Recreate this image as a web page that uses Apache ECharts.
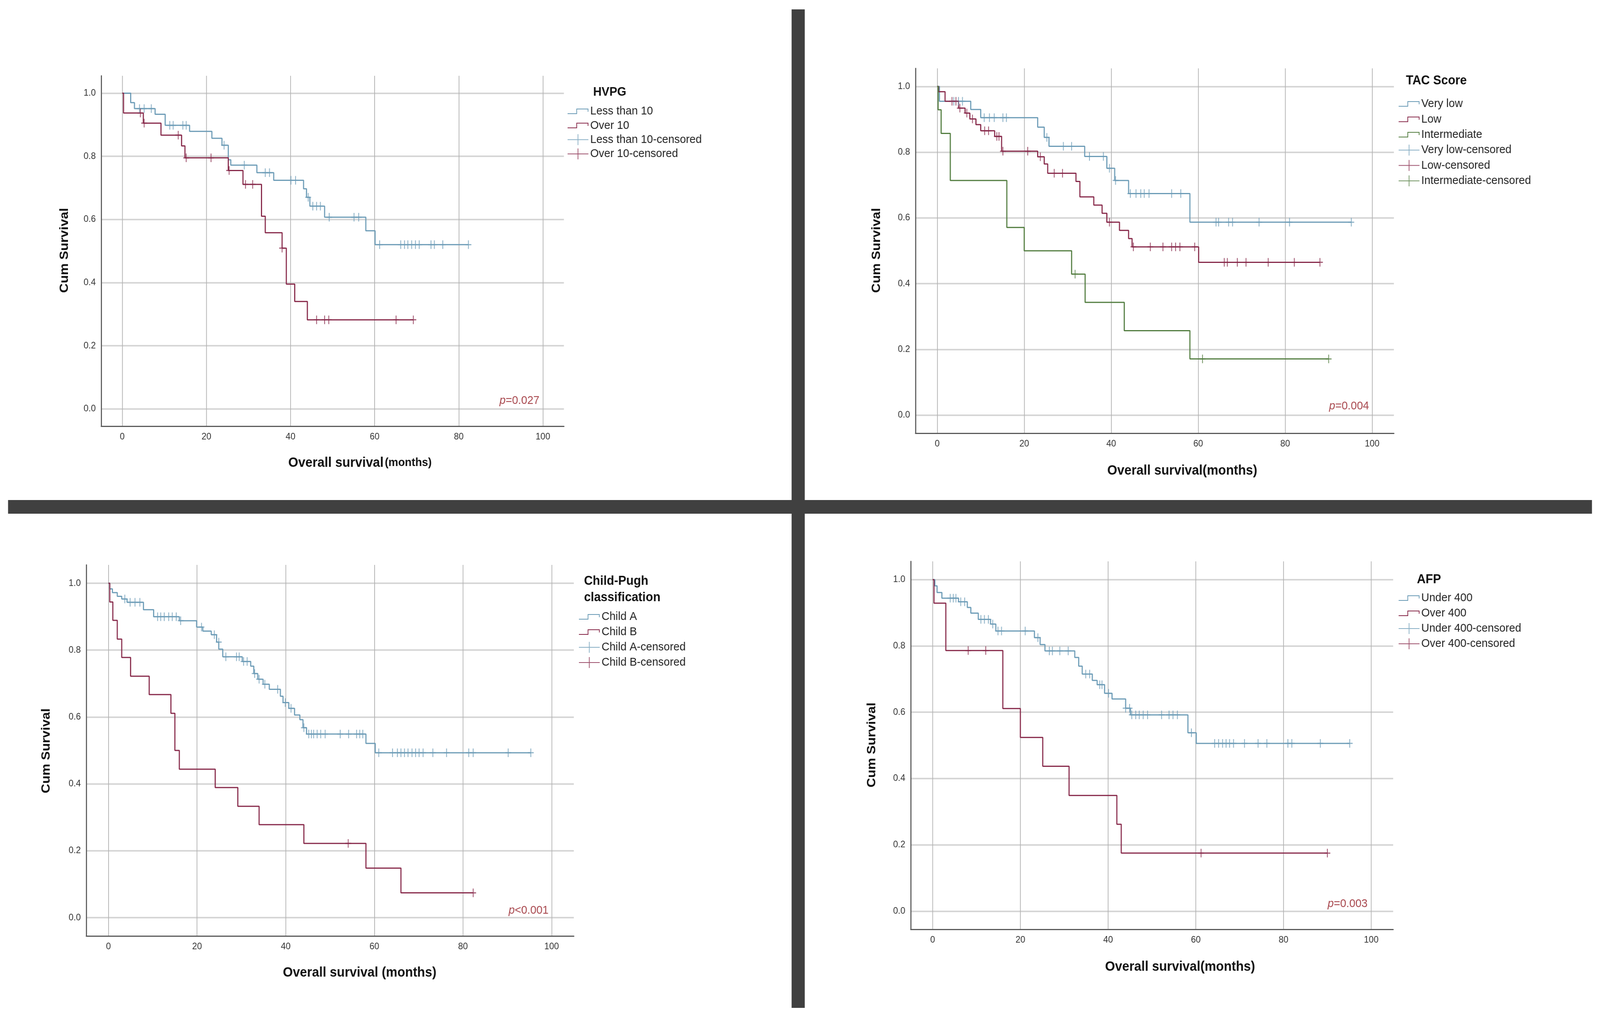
<!DOCTYPE html>
<html>
<head>
<meta charset="utf-8">
<script src="https://cdn.jsdelivr.net/npm/echarts@6/dist/echarts.min.js"></script>
<style>html,body{margin:0;padding:0;background:#fff;overflow:hidden}#c{width:4378px;height:2588px;transform-origin:0 0}</style>
</head>
<body>
<div id="c"></div>
<script>
// ---------- tick labels ----------
const xTicks = [0, 20, 40, 60, 80, 100];
const yTicks = [0, 0.2, 0.4, 0.6, 0.8, 1.0];

// ---------- Panel 1: HVPG ----------
const hvpgLess = [[0,1],[2,0.970],[2.9,0.951],[7.8,0.933],[10.2,0.898],[16,0.879],[21.3,0.857],[23.7,0.835],[25.2,0.789],[25.8,0.772],[32,0.748],[36,0.724],[43.1,0.697],[43.8,0.670],[44.6,0.642],[48.1,0.607],[57.9,0.564],[60.1,0.520],[82.3,0.520]];
const hvpgLessCens = [[4.1,0.951],[5.2,0.951],[6.9,0.951],[11.3,0.898],[12.1,0.898],[14.4,0.898],[15.2,0.898],[24.2,0.835],[29,0.772],[34,0.748],[35,0.748],[40.1,0.724],[41.2,0.724],[44.2,0.670],[45.3,0.642],[46.2,0.642],[47.1,0.642],[49.2,0.607],[55.1,0.607],[56.2,0.607],[61.2,0.520],[66.2,0.520],[67.1,0.520],[67.9,0.520],[68.8,0.520],[69.7,0.520],[70.6,0.520],[73.4,0.520],[74.2,0.520],[76.2,0.520],[82.3,0.520]];
const hvpgOver = [[0,1],[0.3,0.937],[5,0.905],[9.2,0.867],[14.1,0.833],[14.9,0.795],[25.2,0.755],[28.7,0.711],[33.1,0.610],[34,0.558],[38,0.509],[39,0.395],[41,0.340],[44,0.282],[69.2,0.282]];
const hvpgOverCens = [[4.3,0.937],[5.2,0.905],[13.3,0.867],[15.2,0.795],[21.1,0.795],[25.4,0.755],[29.3,0.711],[31,0.711],[38,0.509],[46.2,0.282],[48.1,0.282],[49.1,0.282],[65.1,0.282],[69.2,0.282]];

// ---------- Panel 2: TAC Score ----------
const tacVeryLow = [[0,1],[0.5,0.955],[7.7,0.930],[10,0.905],[23.1,0.876],[24.6,0.845],[25.7,0.818],[33.9,0.787],[39,0.751],[40.8,0.714],[44,0.674],[58.1,0.587],[95.2,0.587]];
const tacVeryLowCens = [[3.8,0.955],[4.9,0.955],[5.8,0.955],[10.8,0.905],[12,0.905],[13.1,0.905],[15.1,0.905],[15.9,0.905],[25.2,0.845],[29,0.818],[30.9,0.818],[35,0.787],[38.2,0.787],[39.6,0.751],[41,0.714],[44.4,0.674],[45.7,0.674],[46.8,0.674],[47.6,0.674],[48.7,0.674],[53.9,0.674],[56,0.674],[64.1,0.587],[64.7,0.587],[67,0.587],[67.9,0.587],[74,0.587],[81,0.587],[95.2,0.587]];
const tacLow = [[0,1],[0.3,0.984],[1.8,0.955],[4.9,0.934],[6.4,0.919],[7.5,0.901],[8.9,0.884],[10,0.865],[13.2,0.848],[14.8,0.803],[23.1,0.786],[24.6,0.764],[25.4,0.736],[31.9,0.711],[32.8,0.664],[36,0.639],[37.9,0.614],[39,0.587],[41.9,0.562],[44,0.537],[44.8,0.512],[60.1,0.465],[88,0.465]];
const tacLowCens = [[3.4,0.955],[4.3,0.955],[5.2,0.934],[6.8,0.919],[8.1,0.901],[10.9,0.865],[11.8,0.865],[13.7,0.848],[14.2,0.848],[15.1,0.803],[20.8,0.803],[23.7,0.786],[26.9,0.736],[28.8,0.736],[39.6,0.587],[45.1,0.512],[49,0.512],[51.9,0.512],[53.9,0.512],[54.8,0.512],[55.8,0.512],[59.2,0.512],[66,0.465],[66.7,0.465],[69,0.465],[71,0.465],[76.1,0.465],[82.1,0.465],[88,0.465]];
const tacInter = [[0,1],[0.2,0.929],[0.9,0.857],[3,0.714],[16,0.571],[20,0.500],[30.9,0.429],[34,0.343],[43,0.257],[58.1,0.171],[90,0.171]];
const tacInterCens = [[31.7,0.429],[61,0.171],[90,0.171]];

// ---------- Panel 3: Child-Pugh ----------
const childA = [[0,1],[0.3,0.983],[0.9,0.972],[2,0.961],[3,0.953],[4.2,0.943],[7.9,0.921],[10.2,0.900],[16,0.888],[19.9,0.869],[21.3,0.857],[23.2,0.846],[24.4,0.824],[24.9,0.803],[25.8,0.780],[30.2,0.766],[32.1,0.752],[32.8,0.730],[33.7,0.713],[34.9,0.698],[36.3,0.683],[38.8,0.662],[39.4,0.643],[40.7,0.626],[42,0.606],[43.2,0.592],[43.9,0.568],[44.7,0.549],[58.1,0.521],[60.2,0.493],[95.3,0.493]];
const childACens = [[3.7,0.953],[4.9,0.943],[6,0.943],[7.1,0.943],[11.1,0.900],[11.8,0.900],[12.6,0.900],[13.6,0.900],[14.4,0.900],[15.3,0.900],[16.3,0.888],[21,0.869],[23.9,0.846],[24.9,0.824],[26.5,0.780],[28.9,0.780],[29.5,0.780],[30.5,0.766],[31.3,0.766],[33,0.730],[34,0.713],[35.3,0.698],[38.2,0.683],[39.9,0.643],[41.2,0.626],[44.1,0.568],[45.2,0.549],[45.8,0.549],[46.3,0.549],[47.1,0.549],[47.9,0.549],[48.9,0.549],[52.3,0.549],[54.2,0.549],[56,0.549],[56.7,0.549],[57.4,0.549],[61,0.493],[64.1,0.493],[65.2,0.493],[66,0.493],[66.8,0.493],[67.6,0.493],[68.5,0.493],[69.3,0.493],[70.1,0.493],[71,0.493],[73.2,0.493],[76.3,0.493],[81.3,0.493],[82.3,0.493],[90.2,0.493],[95.3,0.493]];
const childB = [[0,1],[0.3,0.944],[1,0.889],[2,0.833],[3,0.778],[5,0.722],[9.2,0.667],[14.1,0.611],[15,0.500],[16,0.444],[24.1,0.389],[29.2,0.333],[34,0.278],[44.1,0.222],[58.1,0.148],[66,0.074],[82.3,0.074]];
const childBCens = [[54.1,0.222],[82.3,0.074]];

// ---------- Panel 4: AFP ----------
const afpUnder = [[0,1],[0.5,0.981],[1,0.961],[2.1,0.944],[5.9,0.933],[7.9,0.916],[8.7,0.899],[10.4,0.880],[13.2,0.866],[14.4,0.845],[23.2,0.825],[24.5,0.804],[25.6,0.785],[32.4,0.765],[33.3,0.739],[34.1,0.715],[36.4,0.696],[37.5,0.683],[39.2,0.657],[40.9,0.640],[44,0.612],[45.1,0.592],[58.2,0.538],[60.1,0.506],[95.1,0.506]];
const afpUnderCens = [[4,0.944],[4.7,0.944],[5.3,0.944],[6.4,0.933],[7.3,0.933],[11,0.880],[11.8,0.880],[12.7,0.880],[13.7,0.866],[14.9,0.845],[15.7,0.845],[21.1,0.845],[24,0.825],[26.6,0.785],[27.3,0.785],[29,0.785],[30.9,0.785],[34.9,0.715],[35.8,0.715],[38.1,0.683],[38.6,0.683],[40.1,0.657],[44,0.612],[44.9,0.612],[45.4,0.592],[46.3,0.592],[47.1,0.592],[48,0.592],[49,0.592],[52.2,0.592],[53.9,0.592],[54.8,0.592],[55.8,0.592],[59,0.538],[64.3,0.506],[65.2,0.506],[66.1,0.506],[66.9,0.506],[67.7,0.506],[68.6,0.506],[71.1,0.506],[74.2,0.506],[76.2,0.506],[81,0.506],[81.9,0.506],[88.4,0.506],[95.1,0.506]];
const afpOver = [[0,1],[0.3,0.929],[3,0.786],[16,0.611],[20,0.524],[25.1,0.437],[31.1,0.349],[42,0.262],[43,0.175],[90,0.175]];
const afpOverCens = [[8.1,0.786],[12.1,0.786],[61.2,0.175],[90,0.175]];

// ---------- styling ----------
const FONT = "'Liberation Sans', Arial, sans-serif";
const BLUE = '#6b9bb6';
const RED = '#862748';
const GREEN = '#517c3e';
const PCOL = '#a9494f';
const STEP = 'path://M0,12H24V0H57V8H55V2H26V14H0Z';
const CENS_ICON = 'path://M0,13H57V15H0Z M27.5,0H29.5V28H27.5Z';
const PLUS = 'path://M0,8.75H18V11.25H0Z M7.75,0H10.25V20H7.75Z';

const grids = [
  {left: 277, top: 194, width: 1266, height: 897},
  {left: 2505, top: 175, width: 1309, height: 934},
  {left: 236, top: 1446, width: 1334, height: 950},
  {left: 2492, top: 1437, width: 1320, height: 942}
];

function xAx(i) {
  return {
    type: 'value', gridIndex: i, min: -5, max: 105,
    axisLine: {show: true, onZero: false, lineStyle: {color: '#5a5a5a', width: 3}},
    axisTick: {show: false, customValues: xTicks},
    axisLabel: {customValues: xTicks, fontSize: 24, color: '#333', fontFamily: FONT, margin: 15},
    splitLine: {show: true, lineStyle: {color: '#b4b4b4', width: 2}}
  };
}
function yAx(i) {
  return {
    type: 'value', gridIndex: i, min: -0.055, max: 1.055,
    axisLine: {show: true, onZero: false, lineStyle: {color: '#5a5a5a', width: 3}},
    axisTick: {show: false, customValues: yTicks},
    axisLabel: {customValues: yTicks, fontSize: 24, color: '#333', fontFamily: FONT, margin: 15,
      formatter: v => v.toFixed(1)},
    splitLine: {show: true, lineStyle: {color: '#d6d6d6', width: 4}}
  };
}
function km(name, data, color, i) {
  return {type: 'line', name, data, xAxisIndex: i, yAxisIndex: i, step: 'end', symbol: 'none',
    lineStyle: {color, width: 3}, itemStyle: {color}, z: 3, animation: false};
}
function cens(name, data, color, i) {
  return {type: 'scatter', name, data, xAxisIndex: i, yAxisIndex: i, symbol: PLUS, symbolSize: [16, 22],
    itemStyle: {color}, z: 4, animation: false};
}
function legend(left, top, gap, items) {
  return {
    orient: 'vertical', left, top, itemWidth: 57, itemHeight: 28, itemGap: gap, padding: 0,
    selectedMode: false, itemStyle: {borderWidth: 0},
    textStyle: {fontSize: 30, color: '#222', fontFamily: FONT, lineHeight: 30},
    data: items.map(([n, c]) => ({name: n, icon: c ? CENS_ICON : STEP}))
  };
}
function txt(x, y, text, size, opts) {
  return Object.assign({type: 'text', x, y, silent: true,
    style: Object.assign({text, fontSize: size, fontWeight: 'bold', fontFamily: FONT, fill: '#111',
      align: 'center', verticalAlign: 'middle'}, (opts && opts.style) || {})},
    (opts && opts.el) || {});
}
function pval(xRight, y, text) {
  return {type: 'text', x: xRight, y, silent: true,
    style: {text: '{i|p}' + text, fontSize: 30, fontFamily: FONT, fill: PCOL, align: 'right', verticalAlign: 'middle',
      rich: {i: {fontStyle: 'italic', fontSize: 30, fontFamily: FONT, fill: PCOL}}}};
}

// fit the 4378x2588 drawing to the viewport that is really available
const W = 4378, H = 2588;
const vw = window.innerWidth || W, vh = window.innerHeight || H;
const el = document.getElementById('c');
if (Math.abs(vw - W) > 2 || Math.abs(vh - H) > 2) {
  el.style.transform = 'scale(' + (vw / W) + ',' + (vh / H) + ')';
}

const option = {
  backgroundColor: '#ffffff',
  animation: false,
  grid: grids,
  xAxis: [0, 1, 2, 3].map(xAx),
  yAxis: [0, 1, 2, 3].map(yAx),
  legend: [
    legend(1553, 270, 6.3, [['Less than 10'], ['Over 10'], ['Less than 10-censored', 1], ['Over 10-censored', 1]]),
    legend(3827, 251, 9.4, [['Very low'], ['Low'], ['Intermediate'], ['Very low-censored', 1], ['Low-censored', 1], ['Intermediate-censored', 1]]),
    legend(1584, 1564, 9, [['Child A'], ['Child B'], ['Child A-censored', 1], ['Child B-censored', 1]]),
    legend(3827, 1516, 9, [['Under 400'], ['Over 400'], ['Under 400-censored', 1], ['Over 400-censored', 1]])
  ],
  series: [
    km('Less than 10', hvpgLess, BLUE, 0),
    km('Over 10', hvpgOver, RED, 0),
    cens('Less than 10-censored', hvpgLessCens, BLUE, 0),
    cens('Over 10-censored', hvpgOverCens, RED, 0),

    km('Very low', tacVeryLow, BLUE, 1),
    km('Low', tacLow, RED, 1),
    km('Intermediate', tacInter, GREEN, 1),
    cens('Very low-censored', tacVeryLowCens, BLUE, 1),
    cens('Low-censored', tacLowCens, RED, 1),
    cens('Intermediate-censored', tacInterCens, GREEN, 1),

    km('Child A', childA, BLUE, 2),
    km('Child B', childB, RED, 2),
    cens('Child A-censored', childACens, BLUE, 2),
    cens('Child B-censored', childBCens, RED, 2),

    km('Under 400', afpUnder, BLUE, 3),
    km('Over 400', afpOver, RED, 3),
    cens('Under 400-censored', afpUnderCens, BLUE, 3),
    cens('Over 400-censored', afpOverCens, RED, 3)
  ],
  graphic: [
    {type: 'rect', silent: true, shape: {x: 2166, y: 24, width: 36, height: 2556}, style: {fill: '#404040'}},
    {type: 'rect', silent: true, shape: {x: 22, y: 1280, width: 4334, height: 35}, style: {fill: '#404040'}},
    // legend headings
    txt(1623, 236, 'HVPG', 32, {style: {align: 'left'}}),
    txt(3847, 207, 'TAC Score', 33, {style: {align: 'left'}}),
    txt(1598, 1488, 'Child-Pugh', 33, {style: {align: 'left'}}),
    txt(1598, 1530, 'classification', 33, {style: {align: 'left'}}),
    txt(3877, 1484, 'AFP', 33, {style: {align: 'left'}}),
    // x-axis titles
    {type: 'text', x: 985, y: 1185, silent: true,
      style: {text: '{a|Overall survival} {b|(months)}', align: 'center', verticalAlign: 'middle',
        rich: {a: {fontSize: 35, fontWeight: 'bold', fontFamily: FONT, fill: '#111'},
               b: {fontSize: 30, fontWeight: 'bold', fontFamily: FONT, fill: '#111'}}}},
    txt(3235, 1205, 'Overall survival(months)', 35),
    txt(984, 2490, 'Overall survival (months)', 35),
    txt(3229, 2475, 'Overall survival(months)', 35),
    // y-axis titles
    txt(177, 641, 'Cum Survival', 34, {el: {rotation: Math.PI / 2}}),
    txt(2399, 641, 'Cum Survival', 34, {el: {rotation: Math.PI / 2}}),
    txt(127, 1922, 'Cum Survival', 34, {el: {rotation: Math.PI / 2}}),
    txt(2386, 1907, 'Cum Survival', 34, {el: {rotation: Math.PI / 2}}),
    // p-values
    pval(1476, 1026, '=0.027'),
    pval(3746, 1040, '=0.004'),
    pval(1501, 2331, '<0.001'),
    pval(3742, 2314, '=0.003')
  ]
};

const chart = echarts.init(el, null, {renderer: 'canvas'});
chart.setOption(option);
</script>
</body>
</html>
